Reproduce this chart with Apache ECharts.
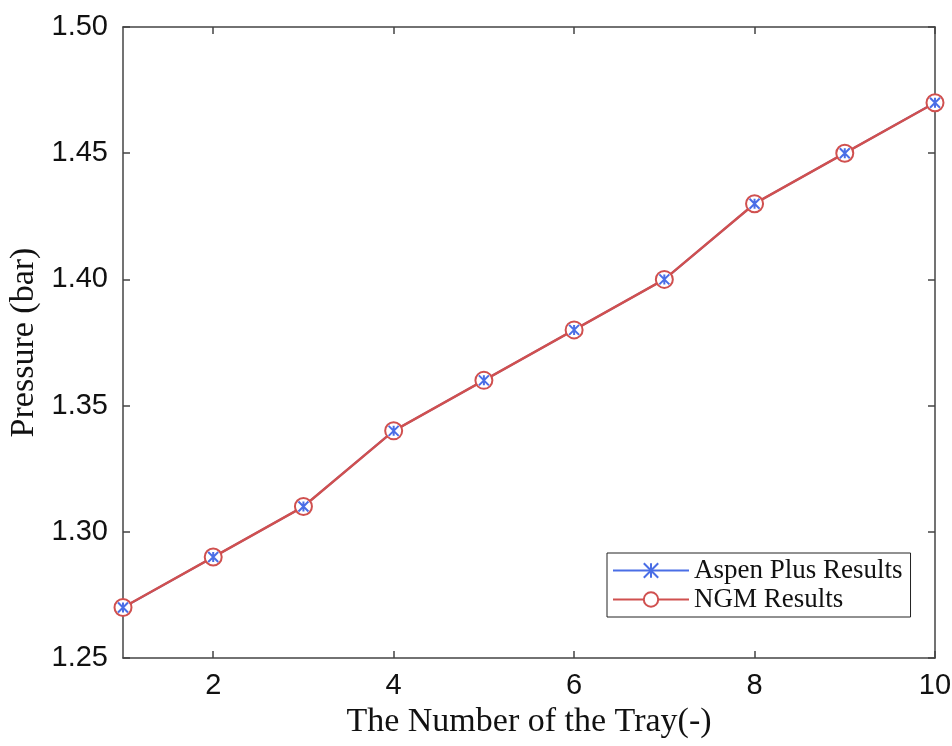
<!DOCTYPE html>
<html lang="en">
<head>
    <meta charset="UTF-8">
    <title>Tray pressure</title>
    <script src="https://cdn.jsdelivr.net/npm/echarts@6.0.0/dist/echarts.min.js"></script>
</head>
<body style="margin:0;background:#fff;">
    <div id="main" style="width: 952px;height:746px;"></div>
    <script type="text/javascript">
        // tray numbers and pressures
        const trays = [1, 2, 3, 4, 5, 6, 7, 8, 9, 10];
        const aspenPressure = [1.27, 1.29, 1.31, 1.34, 1.36, 1.38, 1.40, 1.43, 1.45, 1.47];
        const ngmPressure = [1.27, 1.29, 1.31, 1.34, 1.36, 1.38, 1.40, 1.43, 1.45, 1.47];
        const xTicks = [2, 4, 6, 8, 10];

        const blue = '#4a6ee6';
        const red = '#d0504f';
        const axisColor = '#444';
        const crossPath = 'path://M0,0L10,10M10,0L0,10M5,0L5,10';

        let myChart = echarts.init(document.getElementById('main'));

        const pairs = arr => trays.map((t, i) => [t, arr[i]]);

        const commonX = {
            type: 'value', min: 1, max: 10, interval: 1,
            axisLine: { show: true, lineStyle: { color: axisColor, width: 1.5 } },
            axisTick: { show: true, inside: true, length: 7, customValues: xTicks, lineStyle: { color: axisColor, width: 1.5 } },
            splitLine: { show: false }
        };
        const commonY = {
            type: 'value', min: 1.25, max: 1.5, interval: 0.05,
            axisLine: { show: true, lineStyle: { color: axisColor, width: 1.5 } },
            axisTick: { show: true, inside: true, length: 7, lineStyle: { color: axisColor, width: 1.5 } },
            splitLine: { show: false }
        };

        let options = {
            animation: false,
            grid: { left: 123, right: 17, top: 27, bottom: 88, outerBoundsMode: 'none', containLabel: false },
            xAxis: [
                Object.assign({}, commonX, {
                    position: 'bottom',
                    name: 'The Number of the Tray(-)',
                    nameLocation: 'middle',
                    nameGap: 31,
                    nameTextStyle: { fontFamily: 'Liberation Serif', fontSize: 34, color: '#111' },
                    axisLabel: { customValues: xTicks, margin: 13, fontFamily: 'Liberation Sans', fontSize: 29, color: '#111' }
                }),
                Object.assign({}, commonX, { position: 'top', axisLabel: { show: false } })
            ],
            yAxis: [
                Object.assign({}, commonY, {
                    position: 'left',
                    name: 'Pressure (bar)',
                    nameLocation: 'middle',
                    nameGap: 80,
                    nameTextStyle: { fontFamily: 'Liberation Serif', fontSize: 34, color: '#111' },
                    axisLabel: {
                        margin: 15, fontFamily: 'Liberation Sans', fontSize: 29, color: '#111',
                        formatter: v => v.toFixed(2)
                    }
                }),
                Object.assign({}, commonY, { position: 'right', axisLabel: { show: false } })
            ],
            legend: {
                data: ['Aspen Plus Results', 'NGM Results'],
                orient: 'vertical',
                left: 607, top: 553,
                itemWidth: 76, itemHeight: 18, itemGap: 2,
                padding: [4, 8, 4, 5],
                borderColor: '#222', borderWidth: 1,
                backgroundColor: '#fff',
                textStyle: { fontFamily: 'Liberation Serif', fontSize: 27, color: '#111' }
            },
            series: [
                {
                    name: 'Aspen Plus Results', type: 'line', z: 1,
                    data: pairs(aspenPressure),
                    symbol: crossPath, symbolSize: 10,
                    itemStyle: { color: blue, borderColor: blue, borderWidth: 2 },
                    lineStyle: { color: blue, width: 2 }
                },
                {
                    name: 'NGM Results', type: 'line', z: 2,
                    data: pairs(ngmPressure),
                    symbol: 'emptyCircle', symbolSize: 17,
                    itemStyle: { color: red, borderColor: red, borderWidth: 3 },
                    lineStyle: { color: red, width: 2.5 }
                },
                {
                    // blue markers drawn again on top of the red circles
                    name: 'aspen-markers', type: 'line', z: 3,
                    data: pairs(aspenPressure),
                    symbol: crossPath, symbolSize: 10,
                    itemStyle: { color: blue, borderColor: blue, borderWidth: 2 },
                    lineStyle: { width: 0, opacity: 0 },
                    silent: true
                }
            ]
        };

        myChart.setOption(options);
    </script>
</body>
</html>
